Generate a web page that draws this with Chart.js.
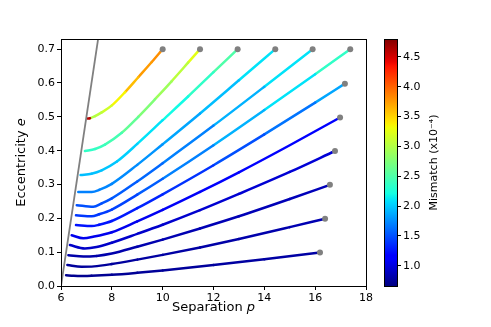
<!DOCTYPE html>
<html lang="en">
<head>
<meta charset="UTF-8">
<title>Eccentricity vs separation</title>
<script src="https://cdn.jsdelivr.net/npm/chart.js"></script>
<style>
    body { margin: 0; background: #fff; }
    canvas { display: block; }
</style>
</head>
<body>
<canvas id="myChart" width="491" height="327"></canvas>
<script>
// each track runs from its grey start dot down to the end near the separatrix
const pathP = [
    [10.0, 9.57, 9.04, 8.52, 7.99, 7.6, 7.34, 7.14, 7.05],
    [11.47, 11.0, 10.35, 9.7, 9.04, 8.39, 7.73, 7.34, 6.94],
    [12.95, 12.0, 11.0, 10.0, 9.0, 8.2, 7.6, 7.2, 6.77],
    [14.43, 13.0, 11.47, 10.0, 9.0, 8.0, 7.5, 7.21, 6.68],
    [15.9, 14.0, 12.0, 10.0, 9.0, 8.0, 7.6, 7.27, 6.62],
    [17.38, 16.0, 14.0, 12.0, 10.0, 9.0, 8.0, 7.5, 7.21, 6.59],
    [17.17, 16.0, 14.0, 12.0, 10.0, 9.0, 8.0, 7.5, 7.21, 6.59],
    [16.98, 15.0, 13.0, 11.47, 10.0, 9.0, 8.0, 7.3, 6.88, 6.42],
    [16.78, 15.0, 13.0, 11.47, 10.0, 9.0, 8.0, 7.4, 6.94, 6.35],
    [16.58, 15.0, 13.0, 11.47, 10.0, 9.0, 8.0, 7.4, 6.88, 6.29],
    [16.39, 15.0, 13.0, 11.47, 10.0, 9.0, 8.0, 7.3, 6.81, 6.25],
    [16.19, 14.0, 12.0, 10.0, 9.0, 8.0, 7.2, 6.88, 6.5, 6.2]
];
const pathE = [
    [0.70, 0.662, 0.617, 0.573, 0.533, 0.513, 0.502, 0.496, 0.495],
    [0.70, 0.66, 0.605, 0.552, 0.50, 0.453, 0.418, 0.405, 0.399],
    [0.70, 0.632, 0.56, 0.49, 0.42, 0.368, 0.342, 0.332, 0.328],
    [0.70, 0.608, 0.51, 0.419, 0.358, 0.302, 0.284, 0.278, 0.278],
    [0.70, 0.589, 0.474, 0.363, 0.309, 0.259, 0.244, 0.234, 0.239],
    [0.70, 0.626, 0.52, 0.416, 0.317, 0.27, 0.226, 0.212, 0.206, 0.209],
    [0.598, 0.542, 0.448, 0.357, 0.271, 0.23, 0.192, 0.181, 0.177, 0.180],
    [0.498, 0.416, 0.336, 0.278, 0.225, 0.191, 0.159, 0.146, 0.141, 0.150],
    [0.399, 0.337, 0.272, 0.224, 0.181, 0.154, 0.128, 0.115, 0.111, 0.121],
    [0.299, 0.257, 0.206, 0.17, 0.137, 0.116, 0.096, 0.089, 0.087, 0.091],
    [0.199, 0.174, 0.139, 0.114, 0.092, 0.078, 0.065, 0.058, 0.057, 0.062],
    [0.099, 0.079, 0.062, 0.046, 0.039, 0.033, 0.030, 0.0295, 0.030, 0.032]
];
// mismatch (x1e-4) along each track
const mismatch = [
    [3.75, 3.8, 3.75, 3.6, 3.35, 3.15, 3.05, 3.0, 4.6],
    [3.35, 3.25, 3.05, 2.9, 2.75, 2.6, 2.45, 2.4, 2.35],
    [2.65, 2.5, 2.35, 2.2, 2.1, 2.02, 1.98, 1.96, 1.95],
    [2.25, 2.1, 1.95, 1.85, 1.78, 1.74, 1.72, 1.7, 1.7],
    [2.3, 2.1, 1.9, 1.7, 1.6, 1.55, 1.52, 1.5, 1.5],
    [2.55, 2.35, 2.1, 1.9, 1.7, 1.55, 1.45, 1.42, 1.4, 1.4],
    [2.0, 1.85, 1.65, 1.5, 1.38, 1.32, 1.28, 1.26, 1.25, 1.25],
    [1.2, 1.17, 1.14, 1.11, 1.09, 1.07, 1.06, 1.05, 1.05, 1.05],
    [0.98, 0.97, 0.96, 0.95, 0.94, 0.93, 0.93, 0.92, 0.92, 0.92],
    [0.88, 0.87, 0.86, 0.85, 0.84, 0.83, 0.82, 0.82, 0.81, 0.81],
    [0.85, 0.84, 0.82, 0.8, 0.79, 0.78, 0.77, 0.76, 0.76, 0.76],
    [0.8, 0.79, 0.78, 0.76, 0.75, 0.74, 0.73, 0.72, 0.72, 0.72]
];
const separatrixP = [6.0, 7.6];
const separatrixE = [0.0, 0.8];
const xTicks = [6, 8, 10, 12, 14, 16, 18];
const yTicks = [0.0, 0.1, 0.2, 0.3, 0.4, 0.5, 0.6, 0.7];
const cbTicks = [1.0, 1.5, 2.0, 2.5, 3.0, 3.5, 4.0, 4.5];
const cbMin = 0.66;
const cbMax = 4.8;

const FONT = '"DejaVu Sans", sans-serif';

// matplotlib jet
const jetR = [[0, 0], [0.35, 0], [0.66, 1], [0.89, 1], [1, 0.5]];
const jetG = [[0, 0], [0.125, 0], [0.375, 1], [0.64, 1], [0.91, 0], [1, 0]];
const jetB = [[0, 0.5], [0.11, 1], [0.34, 1], [0.65, 0], [1, 0]];
function interp(tab, t) {
    for (let i = 1; i < tab.length; i++) {
        if (t <= tab[i][0]) {
            const a = tab[i - 1], b = tab[i];
            return a[1] + (b[1] - a[1]) * (t - a[0]) / (b[0] - a[0]);
        }
    }
    return tab[tab.length - 1][1];
}
function jet(m) {
    let t = (m - cbMin) / (cbMax - cbMin);
    t = Math.max(0, Math.min(1, t));
    const r = Math.round(255 * interp(jetR, t));
    const g = Math.round(255 * interp(jetG, t));
    const b = Math.round(255 * interp(jetB, t));
    return 'rgb(' + r + ',' + g + ',' + b + ')';
}

var datasets = [{
    data: separatrixP.map((p, i) => ({ x: p, y: separatrixE[i] })),
    borderColor: '#808080',
    borderWidth: 1.8,
    pointRadius: 0,
    tension: 0,
    clip: 0
}];
pathP.forEach((ps, i) => {
    datasets.push({
        data: ps.map((p, j) => ({ x: p, y: pathE[i][j] })),
        borderColor: jet(mismatch[i][0]),
        borderWidth: 2.5,
        borderCapStyle: 'round',
        borderJoinStyle: 'round',
        cubicInterpolationMode: 'monotone',
        segment: {
            borderColor: c => jet(mismatch[i][c.p1DataIndex])
        },
        pointRadius: ps.map((_, j) => j === 0 ? 3 : 0),
        pointBackgroundColor: '#808080',
        pointBorderWidth: 0,
        clip: 0
    });
});

function mixedText(ctx, parts, x, y, rot, size) {
    ctx.save();
    ctx.translate(x, y);
    ctx.rotate(rot);
    ctx.textBaseline = 'middle';
    ctx.textAlign = 'left';
    ctx.fillStyle = '#000';
    let total = 0;
    const widths = parts.map(pt => {
        ctx.font = (pt[1] ? 'italic ' : '') + size + 'px ' + FONT;
        const w = ctx.measureText(pt[0]).width;
        total += w;
        return w;
    });
    let cx = -total / 2;
    parts.forEach((pt, k) => {
        ctx.font = (pt[1] ? 'italic ' : '') + size + 'px ' + FONT;
        ctx.fillText(pt[0], cx, 0);
        cx += widths[k];
    });
    ctx.restore();
}

const decor = {
    id: 'decor',
    afterDraw(chart) {
        const ctx = chart.ctx;
        const a = chart.chartArea;
        const cb = chart.scales.cb;
        ctx.save();
        ctx.strokeStyle = '#000';
        ctx.lineWidth = 1;
        ctx.strokeRect(a.left + 0.5, a.top + 0.5, a.right - a.left, a.bottom - a.top);

        // colorbar
        const x0 = cb.left - 13;
        const g = ctx.createLinearGradient(0, a.bottom, 0, a.top);
        for (let k = 0; k <= 64; k++) {
            const t = k / 64;
            g.addColorStop(t, jet(cbMin + t * (cbMax - cbMin)));
        }
        ctx.fillStyle = g;
        ctx.fillRect(x0, a.top, 13, a.bottom - a.top);
        ctx.strokeRect(x0 + 0.5, a.top + 0.5, 13, a.bottom - a.top);
        ctx.restore();

        const midY = (a.top + a.bottom) / 2;
        mixedText(ctx, [['Separation ', false], ['p', true]], (a.left + a.right) / 2, 308, 0, 13);
        mixedText(ctx, [['Eccentricity ', false], ['e', true]], 22, midY, -Math.PI / 2, 13);
        mixedText(ctx, [['Mismatch (x10\u207B\u2074)', false]], 434, midY, -Math.PI / 2, 11);
    }
};

const tickFont = { family: FONT, size: 11 };

new Chart(document.getElementById('myChart'), {
    type: 'line',
    data: { datasets: datasets },
    options: {
        responsive: false,
        animation: false,
        layout: { padding: { top: 39, left: 0, right: 0, bottom: 0 } },
        plugins: { legend: { display: false }, tooltip: { enabled: false } },
        scales: {
            x: {
                type: 'linear',
                min: 6,
                max: 18,
                afterBuildTicks: s => { s.ticks = xTicks.map(v => ({ value: v })); },
                afterFit: s => { s.height = 41; },
                grid: { display: true, drawOnChartArea: false, tickLength: 4, color: '#000' },
                border: { display: false },
                ticks: { color: '#000', font: tickFont, padding: 2, maxRotation: 0, callback: v => String(v) }
            },
            y: {
                type: 'linear',
                min: 0,
                max: 0.73,
                afterBuildTicks: s => { s.ticks = yTicks.map(v => ({ value: v })); },
                afterFit: s => { s.width = 61; },
                grid: { display: true, drawOnChartArea: false, tickLength: 4, color: '#000' },
                border: { display: false },
                ticks: { color: '#000', font: tickFont, padding: 2, callback: v => v.toFixed(1) }
            },
            gap: {
                type: 'linear',
                position: 'right',
                weight: 0,
                display: true,
                grid: { display: false },
                ticks: { display: false },
                border: { display: false },
                afterFit: s => { s.width = 31; }
            },
            cb: {
                type: 'linear',
                position: 'right',
                weight: 1,
                display: true,
                min: cbMin,
                max: cbMax,
                afterBuildTicks: s => { s.ticks = cbTicks.map(v => ({ value: v })); },
                afterFit: s => { s.width = 94; },
                grid: { display: true, drawOnChartArea: false, tickLength: 4, color: '#000' },
                border: { display: false },
                ticks: { color: '#000', font: tickFont, padding: 2, callback: v => v.toFixed(1) }
            }
        }
    },
    plugins: [decor]
});
</script>
</body>
</html>
